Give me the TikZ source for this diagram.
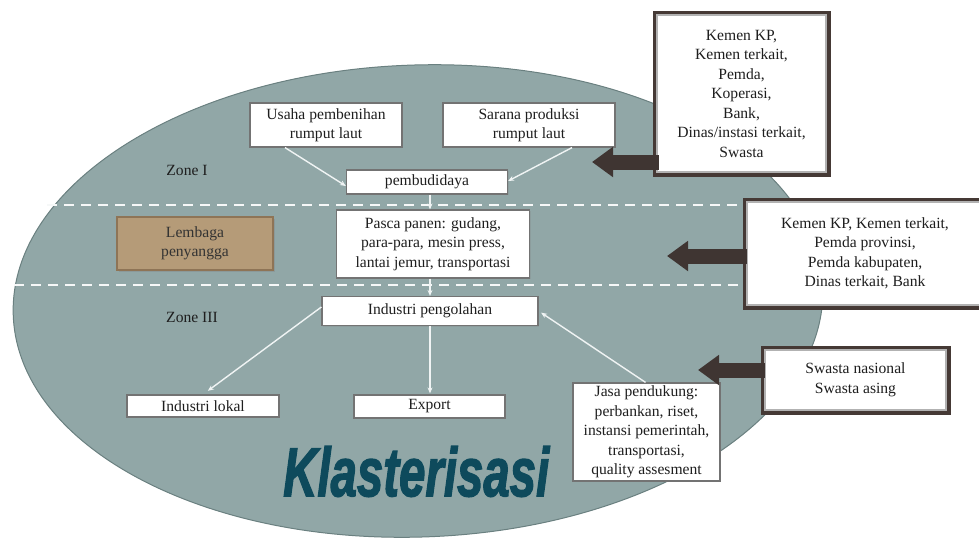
\documentclass[tikz,border=0pt]{standalone}
\usepackage{fontspec}
\setmainfont{Liberation Serif}
\newfontfamily\klfont[BoldItalicFeatures={FakeBold=2.2}]{Liberation Sans}
\usetikzlibrary{arrows.meta,shadows,calc}
\definecolor{ellfill}{HTML}{91A7A7}
\definecolor{elldraw}{HTML}{6A8080}
\definecolor{framec}{HTML}{453935}
\definecolor{arrowc}{HTML}{3F3532}
\definecolor{brownbox}{HTML}{B59B78}
\definecolor{browndraw}{HTML}{8E7456}
\definecolor{kltext}{HTML}{0E4A5C}
\definecolor{txt}{HTML}{1E1E1E}
\definecolor{thinarrow}{HTML}{F0F4F4}
\tikzset{
  every node/.style={text=txt, font=\fontsize{15.6}{19.5}\selectfont},
  wbox/.style={draw=black!55, line width=1.2pt, fill=white, align=center, inner sep=0pt,
    drop shadow={opacity=0.25, shadow xshift=1pt, shadow yshift=-1pt}},
  fbox/.style={draw=framec, line width=5pt, fill=white, align=center, inner sep=0pt},
  inframe/.style={draw=black!30, line width=1.5pt},
  bigarrow/.style={arrowc, line width=15pt, -{Triangle[width=29pt,length=21pt]}},
  thinarr/.style={draw=thinarrow, line width=1.4pt, -{Stealth[length=6pt,width=5pt]}},
  zonedash/.style={draw=white!92!ellfill, line width=2.6pt, dash pattern=on 10pt off 7pt},
}
\begin{document}
\begin{tikzpicture}[x=1pt,y=-1pt]
\useasboundingbox (0,0) rectangle (979,539);
% ellipse
\coordinate (ec) at (418,301);
\filldraw[fill=ellfill, draw=elldraw, line width=1pt, rotate around={2:(ec)}] (ec) ellipse [x radius=405, y radius=236];

% zone separators
\coordinate (d1a) at (47,205);
\coordinate (d1b) at (742,205);
\coordinate (d2a) at (14,285);
\coordinate (d2b) at (745,285);
\draw[zonedash] (d1a) -- (d1b);
\draw[zonedash] (d2a) -- (d2b);

% zone labels
\node (z1) at (187,170) {Zone I};
\node (z3) at (192,317) {Zone III};

% top boxes
\node[wbox, minimum width=152pt, minimum height=44pt] (usaha) at (326,125) {Usaha pembenihan\\rumput laut};
\node[wbox, minimum width=172pt, minimum height=44pt] (sarana) at (529,125) {Sarana produksi\\rumput laut};
\node[wbox, minimum width=161pt, minimum height=24pt] (pemb) at (427,182) {pembudidaya};

\node[wbox, minimum width=193pt, minimum height=68pt] (pasca) at (433,244) {Pasca panen: gudang,\\para-para, mesin press,\\lantai jemur, transportasi};
\node[draw=browndraw, line width=1.5pt, fill=brownbox, minimum width=156pt, minimum height=53pt, align=center, inner sep=0pt,
      text=black!80, drop shadow={opacity=0.35, shadow xshift=1.5pt, shadow yshift=-1.5pt}] (lemb) at (195,243.5) {Lembaga\\penyangga};

\node[wbox, minimum width=216pt, minimum height=29pt] (ip) at (430,311) {Industri pengolahan};
\node[wbox, minimum width=152pt, minimum height=22pt] (lokal) at (203,406) {Industri lokal};
\node[wbox, minimum width=151pt, minimum height=23pt] (export) at (429.5,406.5) {Export};
\node[wbox, minimum width=147pt, minimum height=98pt] (jasa) at (646.5,432) {Jasa pendukung:\\perbankan, riset,\\instansi pemerintah,\\transportasi,\\quality assesment};

% Klasterisasi
\node[anchor=south west, inner sep=0pt, text=kltext] (klast) at (283,497)
  {\resizebox{266pt}{50pt}{\klfont\bfseries\itshape Klasterisasi}};

% thin arrows
\draw[thinarr] ([xshift=-41pt]usaha.south) -- ([yshift=-4pt]pemb.west);
\draw[thinarr] ([xshift=43pt]sarana.south) -- ([yshift=1pt]pemb.east);
\draw[thinarr] ([xshift=3pt]pemb.south) -- ([xshift=3pt]pemb.south |- pasca.north);
\draw[thinarr] ([xshift=-3pt]pasca.south) -- ([xshift=-3pt]pasca.south |- ip.north);
\draw[thinarr, shorten >=6pt] ([yshift=4pt]ip.west) -- (lokal.north);
\draw[thinarr, shorten >=1pt] (ip.south) -- (ip.south |- export.north);
\draw[thinarr, shorten >=3pt] ([xshift=-1pt]jasa.north) -- ([yshift=0pt]ip.east);

% right framed boxes
\node[fbox, minimum width=173pt, minimum height=161pt] (k1) at (741.5,93.5) {Kemen KP,\\Kemen terkait,\\Pemda,\\Koperasi,\\Bank,\\Dinas/instasi terkait,\\Swasta};
\draw[inframe] ([shift={(4.5pt,-4.5pt)}]k1.north west) rectangle ([shift={(-4.5pt,4.5pt)}]k1.south east);

\node[fbox, minimum width=240pt, minimum height=107pt] (k2) at (865,253.5) {Kemen KP, Kemen terkait,\\Pemda provinsi,\\Pemda kabupaten,\\Dinas terkait, Bank};
\draw[inframe] ([shift={(4.5pt,-4.5pt)}]k2.north west) rectangle ([shift={(-4.5pt,4.5pt)}]k2.south east);

\node[fbox, minimum width=185pt, minimum height=64pt] (sw) at (855.5,380) {Swasta nasional\\Swasta asing};
\draw[inframe] ([shift={(4.5pt,-4.5pt)}]sw.north west) rectangle ([shift={(-4.5pt,4.5pt)}]sw.south east);

% big arrows
\coordinate (t1) at (592,162);
\coordinate (t2) at (667,256);
\coordinate (t3) at (698,370);
\draw[bigarrow] ([xshift=6pt]k1.west |- t1) -- (t1);
\draw[bigarrow] ([xshift=4pt]k2.west |- t2) -- (t2);
\draw[bigarrow] ([xshift=4pt]sw.west |- t3) -- (t3);
\end{tikzpicture}
\end{document}
